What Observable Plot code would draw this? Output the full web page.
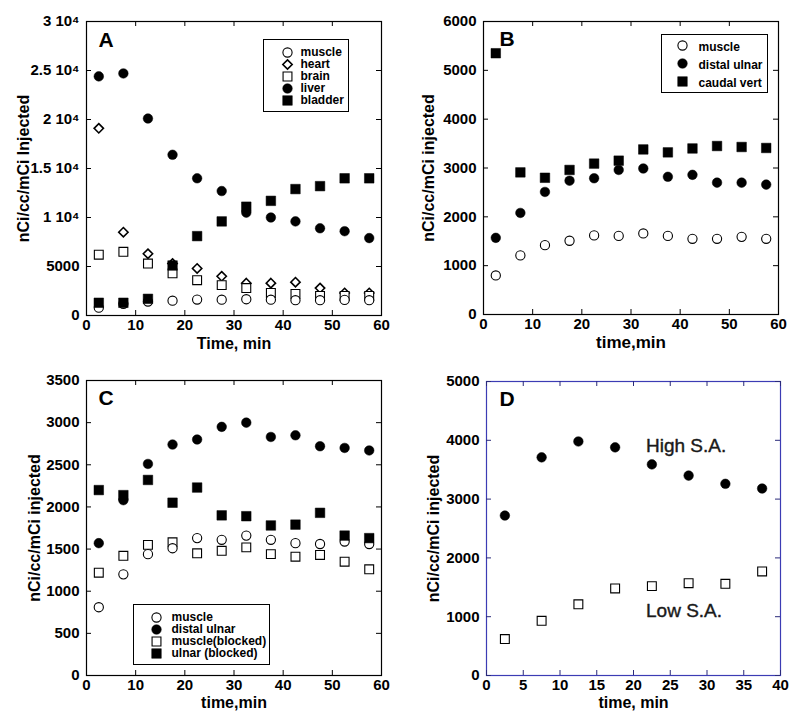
<!DOCTYPE html>
<html><head><meta charset="utf-8">
<script src="https://cdn.jsdelivr.net/npm/d3@7"></script>
<script src="https://cdn.jsdelivr.net/npm/@observablehq/plot@0.6"></script>
<style>
body{margin:0;background:#fff;}
#wrap{position:relative;width:800px;height:717px;background:#fff;}
.panel{position:absolute;}
</style></head><body><div id="wrap"></div>
<script>
// ---- data ----
const times = [2.5, 7.5, 12.5, 17.5, 22.5, 27.5, 32.5, 37.5, 42.5, 47.5, 52.5, 57.5];
const timesD = [2.5, 7.5, 12.5, 17.5, 22.5, 27.5, 32.5, 37.5];

// Panel A
const aMuscle  = [800, 1200, 1430, 1510, 1630, 1610, 1660, 1610, 1560, 1560, 1590, 1560];
const aHeart   = [19100, 8500, 6300, 5300, 4800, 4000, 3300, 3300, 3400, 2800, 2300, 2300];
const aBrain   = [6200, 6500, 5300, 4300, 3600, 3100, 2800, 2300, 2200, 2000, 2000, 2000];
const aLiver   = [24400, 24700, 20100, 16400, 14000, 12700, 10500, 10000, 9600, 8900, 8600, 7900];
const aBladder = [1300, 1300, 1700, 5100, 8100, 9600, 11100, 11700, 12900, 13200, 14000, 14000];

// Panel B
const bMuscle = [800, 1210, 1420, 1510, 1620, 1610, 1660, 1610, 1550, 1550, 1590, 1550];
const bDistal = [1570, 2080, 2510, 2740, 2790, 2960, 2990, 2820, 2860, 2700, 2700, 2660];
const bCaudal = [5350, 2910, 2800, 2960, 3090, 3150, 3380, 3320, 3400, 3450, 3430, 3410];

// Panel C
const cMuscle        = [810, 1200, 1440, 1510, 1630, 1610, 1660, 1610, 1570, 1560, 1590, 1560];
const cDistal        = [1570, 2080, 2510, 2740, 2800, 2950, 3000, 2830, 2850, 2720, 2700, 2670];
const cMuscleBlocked = [1220, 1420, 1550, 1580, 1450, 1480, 1520, 1440, 1410, 1430, 1350, 1260];
const cUlnarBlocked  = [2200, 2140, 2320, 2050, 2230, 1900, 1890, 1780, 1790, 1930, 1660, 1630];

// Panel D
const dHigh = [2720, 3710, 3980, 3880, 3590, 3400, 3260, 3180];
const dLow  = [620, 930, 1210, 1480, 1520, 1570, 1560, 1770];
const dNotes = [{label: "High S.A.", x: 21.7, y: 3900}, {label: "Low S.A.", x: 21.7, y: 1100}];

// Ticks and labels
const ticksX60 = [0, 10, 20, 30, 40, 50, 60];
const ticksX40 = [0, 5, 10, 15, 20, 25, 30, 35, 40];
const ticksYA = [0, 5000, 10000, 15000, 20000, 25000, 30000];
const tickLabelsYA = ["0", "5000", "1 10\u2074", "1.5 10\u2074", "2 10\u2074", "2.5 10\u2074", "3 10\u2074"];
const ticksYB = [0, 1000, 2000, 3000, 4000, 5000, 6000];
const ticksYC = [0, 500, 1000, 1500, 2000, 2500, 3000, 3500];
const ticksYD = [0, 1000, 2000, 3000, 4000, 5000];

// ---- helpers ----
const FONT = "'Liberation Sans', Arial, Helvetica, sans-serif";
const STYLES = {
  openCircle:  {symbol: "circle",  r: 4.6, fill: "white", stroke: "black", strokeWidth: 1.1},
  fillCircle:  {symbol: "circle",  r: 4.8, fill: "black", stroke: "black", strokeWidth: 0.5},
  openSquare:  {symbol: "square",  r: 5.0, fill: "white", stroke: "black", strokeWidth: 1.1},
  fillSquare:  {symbol: "square",  r: 5.4, fill: "black", stroke: "black", strokeWidth: 0.5},
  diamond:     {symbol: "diamond2",r: 4.2, fill: "white", stroke: "black", strokeWidth: 1.6}
};

function seriesMark(xs, ys, style) {
  const data = xs.map((x, i) => ({x, y: ys[i]}));
  return Plot.dot(data, {x: "x", y: "y", ...STYLES[style]});
}

function panel(o) {
  const fw = o.width - o.ml - o.mr;
  const fh = o.height - o.mt - o.mb;
  const tickLen = 5;
  const tc = o.tickColor || "black";
  const marks = [
    Plot.frame({stroke: o.frameColor || "black", strokeWidth: 1.2}),
    // inside tick marks on four sides
    Plot.tickY(o.yTicks, {y: d => d, insetRight: fw - tickLen, stroke: tc}),
    Plot.tickY(o.yTicks, {y: d => d, insetLeft: fw - tickLen, stroke: tc}),
    Plot.tickX(o.xTicks, {x: d => d, insetTop: fh - tickLen, stroke: tc}),
    Plot.tickX(o.xTicks, {x: d => d, insetBottom: fh - tickLen, stroke: tc}),
    Plot.axisY({ticks: o.yTicks, tickSize: 0, tickPadding: 7, tickFormat: o.yFormat || (d => String(d)), label: null,
      fontSize: 15, fontWeight: "bold"}),
    Plot.axisX({ticks: o.xTicks, tickSize: 0, tickPadding: 4, tickFormat: d => String(d), label: null,
      fontSize: 15, fontWeight: "bold"}),
    Plot.text([o.xLabel], {text: d => d, frameAnchor: "bottom", lineAnchor: "middle", textAnchor: "middle",
      dy: o.xLabelDy || 28, fontSize: o.xLabelSize || 16, fontWeight: "bold"}),
    Plot.text([o.yLabel], {text: d => d, frameAnchor: "left", lineAnchor: "middle", textAnchor: "middle",
      dx: o.yLabelDx || -63, rotate: -90, fontSize: 16, fontWeight: "bold"}),
    Plot.text([o.letter], {text: d => d, frameAnchor: "top-left", lineAnchor: "middle", textAnchor: "start",
      dx: o.letterDx || 12, dy: o.letterDy || 19, fontSize: 21, fontWeight: "bold"})
  ];
  if (o.legend) {
    const L = o.legend;
    const n = L.items.length;
    const step = (L.rows[n - 1] - L.rows[0]) / (n - 1);
    const mid = (L.rows[0] + L.rows[n - 1]) / 2;
    marks.push(Plot.frame({insetLeft: L.x0, insetRight: fw - L.x1, insetTop: L.y0, insetBottom: fh - L.y1, stroke: "black", strokeWidth: 1}));
    L.items.forEach((it, i) => {
      marks.push(Plot.dot([it], {frameAnchor: "top-left", dx: L.sx, dy: L.rows[i], ...STYLES[it.style]}));
    });
    // all labels as one multi-line text block
    marks.push(Plot.text([L.items.map(d => d.label).join("\n")], {text: d => d, frameAnchor: "top-left", lineAnchor: "middle",
      textAnchor: "start", lineHeight: step / 12, dx: L.tx, dy: mid, fontSize: 12, fontWeight: "bold", letterSpacing: "0.3px"}));
  }
  marks.push(...o.series);
  if (o.extra) marks.push(...o.extra);
  const svg = Plot.plot({
    width: o.width, height: o.height,
    marginLeft: o.ml, marginRight: o.mr, marginTop: o.mt, marginBottom: o.mb,
    style: {fontFamily: FONT, background: "white", color: "black", overflow: "visible"},
    x: {domain: o.xDomain, ticks: []},
    y: {domain: o.yDomain, ticks: []},
    marks
  });
  svg.classList.add("panel");
  svg.style.left = o.left + "px";
  svg.style.top = o.top + "px";
  return svg;
}

const wrap = document.getElementById("wrap");

// Panel A
wrap.appendChild(panel({
  left: 0, top: 0, width: 400, height: 358, ml: 86, mr: 19, mt: 21, mb: 43,
  xDomain: [0, 60], yDomain: [0, 30000], xTicks: ticksX60, yTicks: ticksYA,
  yFormat: d => tickLabelsYA[ticksYA.indexOf(d)],
  xLabel: "Time, min", yLabel: "nCi/cc/mCi Injected", letter: "A", yLabelDx: -63,
  legend: {x0: 177, x1: 262, y0: 18, y1: 90, sx: 201, tx: 214, rows: [31, 43, 55, 67, 79],
    items: [{label: "muscle", style: "openCircle"}, {label: "heart", style: "diamond"}, {label: "brain", style: "openSquare"},
            {label: "liver", style: "fillCircle"}, {label: "bladder", style: "fillSquare"}]},
  series: [
    seriesMark(times, aHeart, "diamond"),
    seriesMark(times, aBrain, "openSquare"),
    seriesMark(times, aMuscle, "openCircle"),
    seriesMark(times, aLiver, "fillCircle"),
    seriesMark(times, aBladder, "fillSquare")
  ]
}));

// Panel B
wrap.appendChild(panel({
  left: 400, top: 0, width: 400, height: 358, ml: 83, mr: 22, mt: 21, mb: 44,
  xDomain: [0, 60], yDomain: [0, 6000], xTicks: ticksX60, yTicks: ticksYB,
  xLabel: "time,min", yLabel: "nCi/cc/mCi injected", letter: "B", letterDx: 16, letterDy: 18, yLabelDx: -55, xLabelSize: 17,
  legend: {x0: 178, x1: 284, y0: 13, y1: 71, sx: 199, tx: 215, rows: [24, 42, 60],
    items: [{label: "muscle", style: "openCircle"}, {label: "distal ulnar", style: "fillCircle"}, {label: "caudal vert", style: "fillSquare"}]},
  series: [
    seriesMark(times, bMuscle, "openCircle"),
    seriesMark(times, bDistal, "fillCircle"),
    seriesMark(times, bCaudal, "fillSquare")
  ]
}));

// Panel C
wrap.appendChild(panel({
  left: 0, top: 360, width: 400, height: 357, ml: 86, mr: 19, mt: 20, mb: 42,
  xDomain: [0, 60], yDomain: [0, 3500], xTicks: ticksX60, yTicks: ticksYC,
  xLabel: "time,min", yLabel: "nCi/cc/mCi injected", letter: "C", letterDy: 18, xLabelDy: 27, yLabelDx: -52,
  legend: {x0: 47, x1: 183, y0: 224, y1: 284, sx: 70, tx: 85, rows: [237, 249, 261, 273],
    items: [{label: "muscle", style: "openCircle"}, {label: "distal ulnar", style: "fillCircle"},
            {label: "muscle(blocked)", style: "openSquare"}, {label: "ulnar (blocked)", style: "fillSquare"}]},
  series: [
    seriesMark(times, cMuscleBlocked, "openSquare"),
    seriesMark(times, cMuscle, "openCircle"),
    seriesMark(times, cDistal, "fillCircle"),
    seriesMark(times, cUlnarBlocked, "fillSquare")
  ]
}));

// Panel D
wrap.appendChild(panel({
  left: 400, top: 360, width: 400, height: 357, ml: 86, mr: 20, mt: 21, mb: 42,
  xDomain: [0, 40], yDomain: [0, 5000], xTicks: ticksX40, yTicks: ticksYD,
  frameColor: "#3c3cb4", tickColor: "#2a2a7a",
  xLabel: "time, min", yLabel: "nCi/cc/mCi injected", letter: "D", letterDx: 13, letterDy: 18, xLabelDy: 27, yLabelDx: -53,
  series: [
    seriesMark(timesD, dHigh, "fillCircle"),
    seriesMark(timesD, dLow, "openSquare")
  ],
  extra: [
    Plot.text(dNotes, {x: "x", y: "y", text: "label", textAnchor: "start", fontSize: 19, fill: "#1a1a1a",
      stroke: "#1a1a1a", strokeWidth: 0.4, letterSpacing: "0.8px"})
  ]
}));
</script></body></html>
